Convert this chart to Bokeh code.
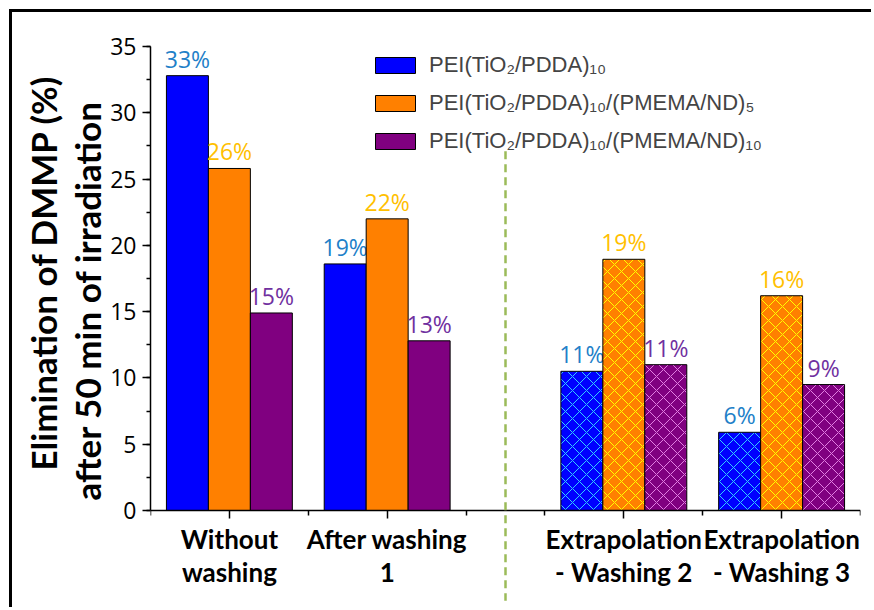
from bokeh.plotting import figure
from bokeh.models import (Range1d, FixedTicker, SingleIntervalTicker, Legend, LegendItem,
                          Arrow, ColumnDataSource, Title)
from bokeh.core.properties import value
from bokeh.transform import dodge
from bokeh.embed import file_html
from bokeh.resources import INLINE

# ---------------- data ----------------
categories = ["Without\nwashing", "After washing\n1", "Extrapolation\n- Washing 2", "Extrapolation\n- Washing 3"]
positions = [1, 3, 6, 8]
measured = [True, True, False, False]   # last two groups are extrapolated (hatched)
series_names = ["PEI(TiO\u2082/PDDA)\u2081\u2080",
                "PEI(TiO\u2082/PDDA)\u2081\u2080/(PMEMA/ND)\u2085",
                "PEI(TiO\u2082/PDDA)\u2081\u2080/(PMEMA/ND)\u2081\u2080"]
s1_values = [32.8, 18.6, 10.5, 5.9]
s2_values = [25.8, 22.0, 18.95, 16.2]
s3_values = [14.9, 12.8, 11.0, 9.5]
s1_labels = ["33%", "19%", "11%", "6%"]
s2_labels = ["26%", "22%", "19%", "16%"]
s3_labels = ["15%", "13%", "11%", "9%"]
y_title_lines = ["Elimination of DMMP (%)", "after 50 min of irradiation"]
y_ticks_major = 5
y_max = 35
separator_x = 4.5

# ---------------- styles ----------------
fill_colors = ["#0000FF", "#FF8000", "#800080"]
hatch_colors = ["#33CCFF", "#FFFF00", "#E27EE2"]
label_colors = ["#2280C8", "#FFC000", "#7030A0"]
bar_w = 0.532
offsets = [-bar_w, 0.0, bar_w]

p = figure(width=862, height=598, x_range=Range1d(0, 9), y_range=Range1d(-7.24, y_max),
           output_backend="svg", toolbar_location=None,
           min_border_left=138, min_border_right=14, min_border_top=34, min_border_bottom=4)
p.styles = {"margin-left": "9px", "margin-top": "9px",
            "border-top": "3px solid black", "border-left": "3px solid black"}
p.outline_line_color = None
p.xgrid.visible = False
p.ygrid.visible = False
p.background_fill_color = "white"
p.border_fill_color = "white"

all_vals = [s1_values, s2_values, s3_values]
all_labels = [s1_labels, s2_labels, s3_labels]
legend_items = []
for i in range(3):
    solid = ColumnDataSource(dict(
        x=[positions[j] for j in range(4) if measured[j]],
        y=[all_vals[i][j] for j in range(4) if measured[j]]))
    hatched = ColumnDataSource(dict(
        x=[positions[j] for j in range(4) if not measured[j]],
        y=[all_vals[i][j] for j in range(4) if not measured[j]]))
    r = p.vbar(x=dodge("x", offsets[i], range=p.x_range), top="y", bottom=0, width=bar_w, source=solid,
               fill_color=fill_colors[i], line_color="black", line_width=1)
    p.vbar(x=dodge("x", offsets[i], range=p.x_range), top="y", bottom=0, width=bar_w, source=hatched,
           fill_color=fill_colors[i], line_color="black", line_width=1,
           hatch_pattern="x", hatch_color=hatch_colors[i], hatch_scale=14, hatch_weight=1)
    lab = ColumnDataSource(dict(x=positions, y=all_vals[i], t=all_labels[i]))
    p.text(x=dodge("x", offsets[i], range=p.x_range), y="y", text="t", source=lab,
           text_align="center", text_baseline="bottom", y_offset=-1,
           text_color=label_colors[i], text_font=value("Open Sans"), text_font_size="23px")
    legend_items.append(LegendItem(label=series_names[i], renderers=[r]))

# separator
p.add_layout(Arrow(end=None, x_start=separator_x, y_start=27.1, x_end=separator_x, y_end=-6.8,
                   line_color="#9BBB59", line_width=2.5, line_dash="8 5"))

legend = Legend(items=legend_items, location=(220, 452), glyph_width=50, glyph_height=20,
                label_standoff=9, label_text_font="Liberation Sans", label_text_font_size="22px",
                label_height=20, spacing=12, padding=0, margin=0,
                border_line_color=None, background_fill_alpha=0)
p.add_layout(legend)

# y axis
ya = p.yaxis[0]
ya.ticker = SingleIntervalTicker(interval=y_ticks_major, num_minor_ticks=2)
ya.bounds = (0, y_max)
ya.axis_line_width = 1.5
ya.major_tick_line_width = 1.5
ya.minor_tick_line_width = 1.5
ya.major_tick_in = 0
ya.major_tick_out = 8
ya.minor_tick_in = 0
ya.minor_tick_out = 4
ya.major_label_standoff = 6
ya.major_label_text_font = "Open Sans"
ya.major_label_text_font_size = "23px"
ya.major_label_text_color = "black"

# y axis title as two left-side titles (nearest line first)
for line, off in [(y_title_lines[1], 106), (y_title_lines[0], 136)]:
    p.add_layout(Title(text=line, align="left", offset=off, standoff=0,
                       text_font="Lato", text_font_style="bold", text_font_size="35px",
                       text_color="black"), "left")

# x axis (sits at y = 0 inside the frame)
xa = p.xaxis[0]
xa.fixed_location = 0
xa.ticker = FixedTicker(ticks=positions, minor_ticks=[0, 2, 4, 5, 7, 9])
xa.major_label_overrides = {pos: cat for pos, cat in zip(positions, categories)}
xa.axis_line_width = 1.5
xa.major_tick_line_width = 1.5
xa.minor_tick_line_width = 1.5
xa.major_tick_in = 0
xa.major_tick_out = 8
xa.minor_tick_in = 0
xa.minor_tick_out = 5
xa.major_label_standoff = 4
xa.major_label_text_font = "Lato"
xa.major_label_text_font_style = "bold"
xa.major_label_text_font_size = "26px"
xa.major_label_text_line_height = 1.05
xa.major_label_text_color = "black"

open("out.html", "w").write(file_html(p, INLINE))
